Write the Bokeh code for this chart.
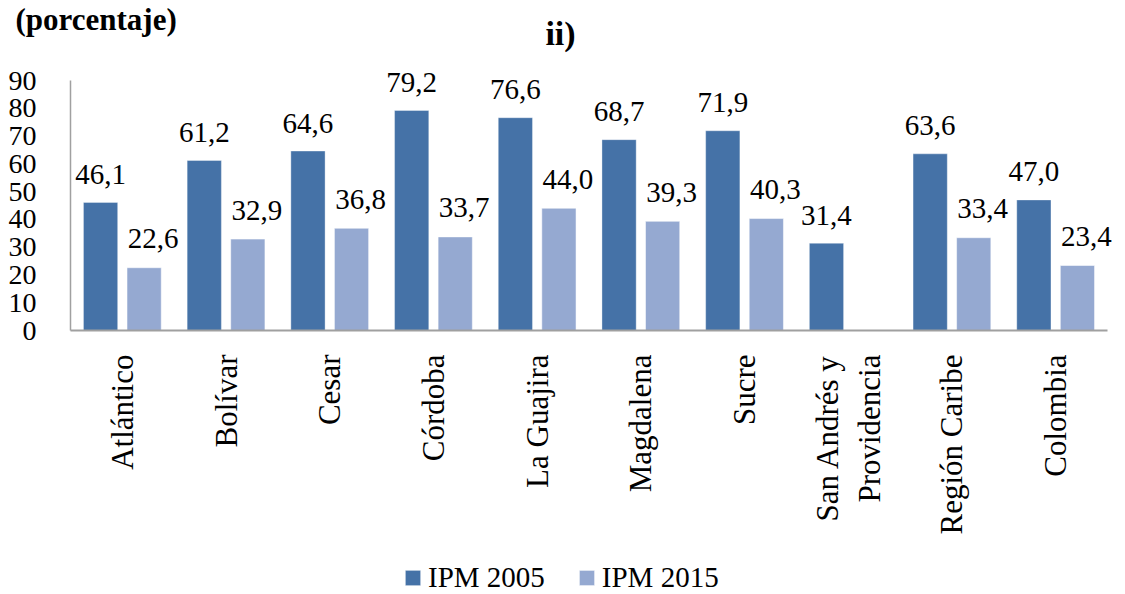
from bokeh.plotting import figure
from bokeh.models import (ColumnDataSource, Range1d, FixedTicker, Legend, LegendItem)
from bokeh.transform import dodge
from bokeh.core.properties import value
from bokeh.embed import file_html
from bokeh.resources import INLINE
import math

categories = ["Atlántico", "Bolívar", "Cesar", "Córdoba", "La Guajira", "Magdalena",
              "Sucre", "San Andrés y\nProvidencia", "Región Caribe", "Colombia"]
ipm_2005 = [46.1, 61.2, 64.6, 79.2, 76.6, 68.7, 71.9, 31.4, 63.6, 47.0]
ipm_2015 = [22.6, 32.9, 36.8, 33.7, 44.0, 39.3, 40.3, float("nan"), 33.4, 23.4]
y_ticks = [0, 10, 20, 30, 40, 50, 60, 70, 80, 90]
unit_label = "(porcentaje)"
panel_label = "ii)"

def fmt(v):
    return "" if math.isnan(v) else f"{v:.1f}".replace(".", ",")

idx = list(range(len(categories)))
src = ColumnDataSource(dict(
    idx=idx,
    v05=ipm_2005,
    v15=ipm_2015,
    l05=[fmt(v) for v in ipm_2005],
    l15=[fmt(v) for v in ipm_2015],
))

SERIF = "Liberation Serif"
DARK = "#4572A7"
LIGHT = "#95A9D1"

# layout geometry (pixels): the plot frame covers the whole canvas,
# axes are pinned with fixed_location so nothing outside the frame is clipped
W, H = 1125, 594
AXIS_X, TOP_Y, ZERO_Y = 70, 80, 330   # y-axis column, row of 90, row of 0
CAT_PX = 103.7                        # width of one category slot
Y_MAX = 90
ppu = (ZERO_Y - TOP_Y) / Y_MAX        # pixels per percentage point
x_start = -0.5 - AXIS_X / CAT_PX
x_end = x_start + W / CAT_PX
y_top = Y_MAX + TOP_Y / ppu
y_bottom = y_top - H / ppu

def px_x(px):
    return x_start + px / CAT_PX

def px_y(py):
    return y_top - py / ppu

p = figure(x_range=Range1d(x_start, x_end), y_range=Range1d(y_bottom, y_top),
           width=W, height=H, min_border=0,
           output_backend="svg", toolbar_location=None)

r05 = p.vbar(x=dodge("idx", -0.21), top="v05", width=0.33, source=src,
             fill_color=DARK, line_color="white", line_alpha=0.35, line_width=1)
r15 = p.vbar(x=dodge("idx", 0.21), top="v15", width=0.33, source=src,
             fill_color=LIGHT, line_color="white", line_alpha=0.5, line_width=1)

p.text(x=dodge("idx", -0.21), y="v05", text="l05", source=src,
       text_font=value(SERIF), text_font_size="29px", text_color="black",
       text_align="center", text_baseline="alphabetic", y_offset=-28)
p.text(x=dodge("idx", 0.21), y="v15", text="l15", source=src,
       text_font=value(SERIF), text_font_size="29px", text_color="black",
       text_align="center", text_baseline="alphabetic", y_offset=-29, x_offset=9)

# headings
p.text(x=[px_x(15)], y=[px_y(19)], text=[unit_label], text_font=value(SERIF),
       text_font_size="31px", text_font_style="bold", text_color="black",
       text_align="left", text_baseline="alphabetic")
p.text(x=[px_x(560)], y=[px_y(33)], text=[panel_label], text_font=value(SERIF),
       text_font_size="34px", text_font_style="bold", text_color="black",
       text_align="center", text_baseline="alphabetic")

p.xgrid.visible = False
p.ygrid.visible = False
p.outline_line_color = None

p.yaxis.fixed_location = -0.5
p.yaxis.ticker = FixedTicker(ticks=y_ticks)
p.yaxis.bounds = (0, Y_MAX)
p.yaxis.major_label_text_font = SERIF
p.yaxis.major_label_text_font_size = "28px"
p.yaxis.major_label_text_color = "black"
p.yaxis.major_label_standoff = 28
p.yaxis.major_tick_line_color = None
p.yaxis.minor_tick_line_color = None
p.yaxis.axis_line_color = "#a0a0a0"
p.yaxis.axis_line_width = 1.5

p.xaxis.fixed_location = 0
p.xaxis.bounds = (-0.5, len(categories) - 0.5)
p.xaxis.ticker = FixedTicker(ticks=idx)
p.xaxis.major_label_overrides = {i: c for i, c in zip(idx, categories)}
p.xaxis.major_label_orientation = math.pi / 2
p.xaxis.major_label_text_font = SERIF
p.xaxis.major_label_text_font_size = "31px"
p.xaxis.major_label_text_color = "black"
p.xaxis.major_label_standoff = 18
p.xaxis.major_tick_line_color = None
p.xaxis.minor_tick_line_color = None
p.xaxis.axis_line_color = "#a0a0a0"
p.xaxis.axis_line_width = 2

legend = Legend(items=[LegendItem(label="IPM 2005", renderers=[r05]),
                       LegendItem(label="IPM 2015", renderers=[r15])],
                location=(403, 0), orientation="horizontal",
                glyph_width=19, glyph_height=19, label_standoff=6, spacing=32,
                padding=0, margin=0, border_line_color=None, background_fill_alpha=0,
                label_text_font=SERIF, label_text_font_size="29px", label_text_color="black",
                label_height=24)
p.add_layout(legend)

open("out.html", "w").write(file_html(p, INLINE))
